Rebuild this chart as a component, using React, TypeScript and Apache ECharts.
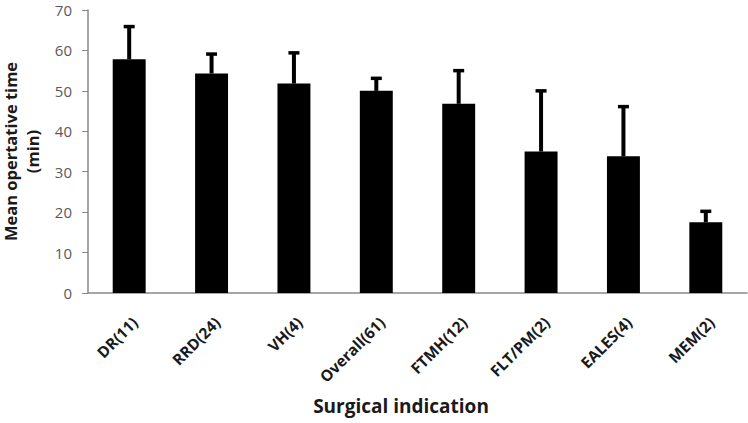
import React, { useEffect, useRef } from "react";
import * as echarts from "echarts";

const categories = ["DR(11)", "RRD(24)", "VH(4)", "Overall(61)", "FTMH(12)", "FLT/PM(2)", "EALES(4)", "MEM(2)"];
const meanValues = [57.8, 54.3, 51.8, 50.0, 46.8, 35.0, 33.8, 17.5];
const upperErrors = [65.9, 59.1, 59.4, 53.1, 55.0, 50.0, 46.1, 20.2];
const yTicks = { min: 0, max: 70, interval: 10 };

export default function App() {
  const ref = useRef<HTMLDivElement>(null);
  useEffect(() => {
    if (!ref.current) return;
    const chart = echarts.init(ref.current, null, { renderer: "svg" });
    const errData = categories.map((_, i) => [i, meanValues[i], upperErrors[i]]);
    chart.setOption({
      animation: false,
      backgroundColor: "#ffffff",
      grid: { left: 88, right: 1, top: 10, bottom: 130, containLabel: false, outerBoundsMode: "none" },
      xAxis: {
        type: "category",
        data: categories,
        axisLine: { lineStyle: { color: "#898989", width: 1.5 } },
        axisTick: { show: false },
        axisLabel: {
          rotate: 45,
          interval: 0,
          margin: 21,
          align: "right",
          verticalAlign: "top",
          color: "#1a1a1a",
          fontWeight: "bold",
          fontSize: 15.5,
          fontFamily: "Open Sans",
        },
        name: "Surgical indication",
        nameLocation: "middle",
        nameGap: 103,
        nameTextStyle: { color: "#1a1a1a", fontWeight: "bold", fontSize: 19, fontFamily: "Open Sans", padding: [0, 33, 0, 0] },
      },
      yAxis: {
        type: "value",
        min: yTicks.min,
        max: yTicks.max,
        interval: yTicks.interval,
        axisLine: { show: true, lineStyle: { color: "#898989", width: 1.5 } },
        axisTick: { show: true, length: 6, lineStyle: { color: "#898989" } },
        splitLine: { show: false },
        axisLabel: { color: "#595959", fontSize: 15, fontFamily: "Open Sans", margin: 16 },
        name: "Mean opertative time\n(min)",
        nameLocation: "middle",
        nameGap: 42,
        nameTextStyle: { color: "#1a1a1a", fontWeight: "bold", fontSize: 16.5, fontFamily: "Open Sans", lineHeight: 22 },
      },
      series: [
        {
          type: "bar",
          data: meanValues,
          barWidth: "40%",
          itemStyle: { color: "#000000" },
          z: 2,
        },
        {
          type: "custom",
          data: errData,
          z: 3,
          renderItem: (params: any, api: any) => {
            const i = api.value(0);
            const top = api.coord([i, api.value(2)]);
            const base = api.coord([i, api.value(1)]);
            const half = 5.5;
            return {
              type: "group",
              children: [
                { type: "line", shape: { x1: top[0], y1: base[1], x2: top[0], y2: top[1] }, style: { stroke: "#000", lineWidth: 4 } },
                { type: "line", shape: { x1: top[0] - half, y1: top[1], x2: top[0] + half, y2: top[1] }, style: { stroke: "#000", lineWidth: 3.5 } },
              ],
            };
          },
        },
      ],
    });
    return () => chart.dispose();
  }, []);
  return <div ref={ref} style={{ width: 748, height: 423, position: "absolute", left: 0, top: 0 }} />;
}
